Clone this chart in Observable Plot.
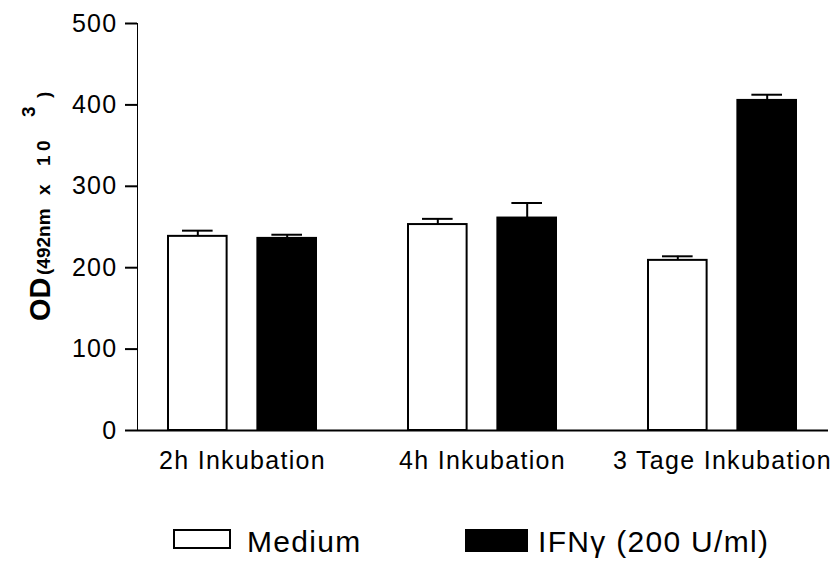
<!DOCTYPE html>
<html>
<head>
<meta charset="utf-8">
<script src="https://cdn.jsdelivr.net/npm/d3@7"></script>
<script src="https://cdn.jsdelivr.net/npm/@observablehq/plot@0.6"></script>
<style>
  html, body { margin: 0; padding: 0; background: #fff; overflow: hidden; }
  #wrap { position: relative; width: 837px; height: 563px; font-family: "Liberation Sans", Arial, sans-serif; }
  #chart svg text { font-family: "Liberation Sans", Arial, sans-serif; fill: #000; }
  .leg { position: absolute; white-space: nowrap; font-size: 30px; letter-spacing: 1.3px; line-height: 30px; color: #000; }
  .box { position: absolute; box-sizing: border-box; }
</style>
</head>
<body>
<div id="wrap">
  <div id="chart"></div>
  <div id="legend"></div>
</div>
<script>
const groups = ["2h Inkubation", "4h Inkubation", "3 Tage Inkubation"];
const seriesNames = ["Medium", "IFNγ (200 U/ml)"];
const mediumValues = [238.5, 253, 209];
const mediumErrors = [7, 7, 5];
const ifnValues = [236, 261, 405.5];
const ifnErrors = [4.5, 18.5, 7];
const yTicks = [0, 100, 200, 300, 400, 500];

const medium = groups.map((g, i) => ({group: g, value: mediumValues[i], top: mediumValues[i] + mediumErrors[i]}));
const ifn = groups.map((g, i) => ({group: g, value: ifnValues[i], top: ifnValues[i] + ifnErrors[i]}));

const width = 837, height = 490;
const marginLeft = 137, marginRight = 9, marginTop = 23, marginBottom = 60;
const padIn = 0.382, padOut = 0.13;
const n = groups.length;
const step = (width - marginLeft - marginRight) / (n - padIn + 2 * padOut);
const bw = step * (1 - padIn);
const barW = 59;
const capW = 31;
const off = bw / 2 - barW / 2;
const capIn = barW / 2 - capW / 2;

const plot = Plot.plot({
  width, height, marginLeft, marginRight, marginTop, marginBottom,
  style: {fontFamily: "Liberation Sans, Arial, sans-serif", fontSize: "25px", color: "#000", background: "#fff"},
  x: {domain: groups, paddingInner: padIn, paddingOuter: padOut, align: 0.5, tickSize: 0, tickPadding: 21, label: null},
  y: {domain: [0, 500], ticks: yTicks, tickSize: 12, tickPadding: 8, line: true, label: null, tickFormat: d => String(d)},
  marks: [
    Plot.barY(medium, {x: "group", y: "value", fill: "#fff", stroke: "#000", strokeWidth: 2, insetLeft: 0, insetRight: bw - barW}),
    Plot.barY(ifn, {x: "group", y: "value", fill: "#000", stroke: "#000", strokeWidth: 2, insetLeft: bw - barW, insetRight: 0}),
    Plot.ruleX(medium, {x: "group", y1: "value", y2: "top", dx: -off, stroke: "#000", strokeWidth: 2}),
    Plot.ruleX(ifn, {x: "group", y1: "value", y2: "top", dx: off, stroke: "#000", strokeWidth: 2}),
    Plot.tickY(medium, {x: "group", y: "top", insetLeft: capIn, insetRight: bw - barW + capIn, stroke: "#000", strokeWidth: 2}),
    Plot.tickY(ifn, {x: "group", y: "top", insetLeft: bw - barW + capIn, insetRight: capIn, stroke: "#000", strokeWidth: 2}),
    Plot.ruleY([0], {stroke: "#000", strokeWidth: 2})
  ]
});

document.getElementById("chart").appendChild(plot);
const svg = d3.select(plot);
svg.selectAll("g[aria-label='x-axis'] text, g[aria-label='y-axis'] text, g[aria-label='x-axis tick label'] text, g[aria-label='y-axis tick label'] text")
  .style("font-size", "25px").style("letter-spacing", "1.3px");
svg.selectAll("g[aria-label='y-axis'] path, g[aria-label='y-axis'] line, g[aria-label='y-axis tick'] path, g[aria-label='y-axis tick'] line")
  .attr("stroke-width", 2);
svg.selectAll("g[aria-label='x-axis'] path.domain").remove();

// y axis title (rotated), pieces placed along the text direction
const t = svg.append("text")
  .attr("transform", "translate(50,321) rotate(-90)")
  .style("font-weight", "bold")
  .style("text-anchor", "start")
  .style("fill", "#000")
  .style("font-family", "Liberation Sans, Arial, sans-serif");
const pieces = [
  {s: "OD", x: 0, y: 0, size: 29},
  {s: "(492nm", x: 46, y: 0, size: 19},
  {s: "x", x: 126, y: 0, size: 19},
  {s: "1", x: 155, y: 0, size: 19},
  {s: "0", x: 170, y: 0, size: 19},
  {s: "3", x: 204, y: -15, size: 19},
  {s: ")", x: 223, y: 0, size: 19}
];
for (const p of pieces) {
  t.append("tspan").attr("x", p.x).attr("y", p.y).style("font-size", p.size + "px").text(p.s);
}

// legend
const legend = document.getElementById("legend");
const items = [
  {name: seriesNames[0], fill: "#fff", boxLeft: 173, boxTop: 529, boxW: 58, boxH: 20, textLeft: 247},
  {name: seriesNames[1], fill: "#000", boxLeft: 465, boxTop: 529, boxW: 63, boxH: 23, textLeft: 538}
];
for (const it of items) {
  const b = document.createElement("div");
  b.className = "box";
  Object.assign(b.style, {left: it.boxLeft + "px", top: it.boxTop + "px", width: it.boxW + "px", height: it.boxH + "px", background: it.fill, border: "2px solid #000"});
  legend.appendChild(b);
  const s = document.createElement("div");
  s.className = "leg";
  Object.assign(s.style, {left: it.textLeft + "px", top: "527px"});
  s.textContent = it.name;
  legend.appendChild(s);
}
</script>
</body>
</html>
